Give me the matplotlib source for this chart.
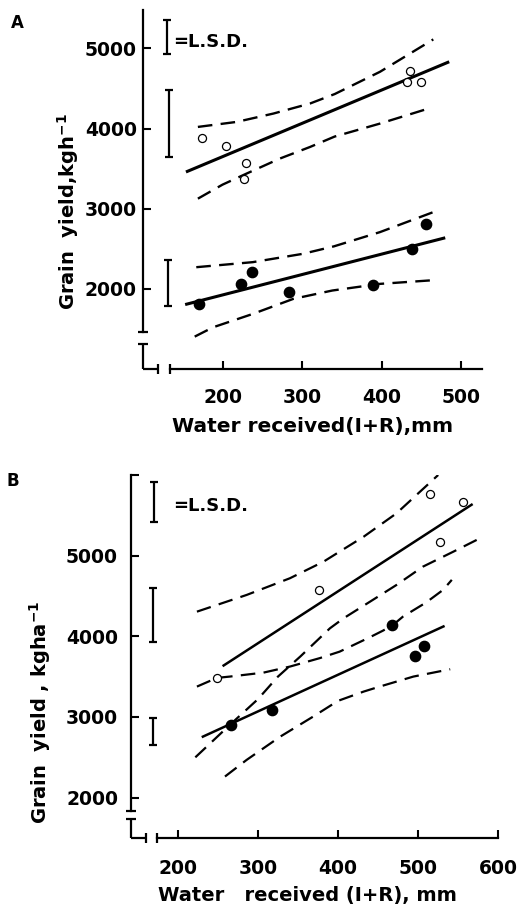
import matplotlib
matplotlib.use('Agg')
import matplotlib.pyplot as plt

plt.rcParams['font.family'] = ['DejaVu Sans']
plt.rcParams['font.weight'] = 'bold'
plt.rcParams['mathtext.default'] = 'bf'
plt.rcParams['lines.scale_dashes'] = False

# ---------------- Panel A data ----------------
a_open_x = [174, 204, 230, 227, 436, 432, 449]
a_open_y = [3883, 3783, 3570, 3375, 4716, 4575, 4575]
a_fill_x = [171, 223, 237, 284, 389, 438, 456]
a_fill_y = [1817, 2063, 2213, 1959, 2046, 2492, 2813]
a_open_fit_x = [154, 485]
a_open_fit_y = [3458, 4833]
a_fill_fit_x = [153, 480]
a_fill_fit_y = [1804, 2637]
a_open_up_x = [169, 218, 264, 310, 341, 398, 465]
a_open_up_y = [4020, 4083, 4187, 4312, 4430, 4708, 5112]
a_open_lo_x = [169, 200, 230, 272, 310, 341, 398, 463]
a_open_lo_y = [3125, 3300, 3437, 3625, 3770, 3900, 4062, 4262]
a_fill_up_x = [167, 238, 301, 340, 398, 473]
a_fill_up_y = [2270, 2333, 2437, 2530, 2708, 2987]
a_fill_lo_x = [165, 188, 238, 289, 338, 398, 471]
a_fill_lo_y = [1404, 1520, 1687, 1875, 1979, 2062, 2112]
a_lsd_x = [130, 133, 131]
a_lsd_lo = [4925, 3645, 1791]
a_lsd_hi = [5354, 4479, 2366]
a_xticks = [200, 300, 400, 500]
a_yticks = [2000, 3000, 4000, 5000]

# ---------------- Panel B data ----------------
b_open_x = [515, 556, 527, 376, 249]
b_open_y = [5761, 5662, 5173, 4571, 3485]
b_fill_x = [266, 318, 468, 496, 507]
b_fill_y = [2896, 3090, 4136, 3758, 3881]
b_open_fit_x = [256, 568]
b_open_fit_y = [3630, 5640]
b_fill_fit_x = [230, 533]
b_fill_fit_y = [2750, 4129]
b_open_up_x = [224, 286, 340, 382, 402, 432, 473, 525]
b_open_up_y = [4306, 4513, 4720, 4926, 5050, 5235, 5525, 6000]
b_open_lo_x = [222, 267, 300, 325, 353, 390, 407, 440, 473, 506, 544, 573]
b_open_lo_y = [2500, 2920, 3220, 3500, 3750, 4100, 4224, 4430, 4637, 4864, 5050, 5195]
b_fill_up_x = [224, 249, 265, 307, 340, 377, 402, 440, 456, 468, 481, 510, 531, 542]
b_fill_up_y = [3377, 3485, 3501, 3550, 3625, 3729, 3810, 3990, 4070, 4136, 4244, 4420, 4575, 4700]
b_fill_lo_x = [259, 286, 328, 369, 400, 432, 452, 494, 540]
b_fill_lo_y = [2262, 2468, 2757, 3005, 3200, 3315, 3377, 3501, 3592]
b_lsd_x = [170, 169, 169]
b_lsd_lo = [5414, 3934, 2648]
b_lsd_hi = [5917, 4603, 2988]
b_xticks = [200, 300, 400, 500, 600]
b_yticks = [2000, 3000, 4000, 5000, 6000]
b_yticklabels = ['2000', '3000', '4000', '5000', '']

W, H = 525, 906
fig = plt.figure(figsize=(W / 100, H / 100), dpi=100)

DASH = (0, (10.5, 6.0))
LW_AX = 1.6


def panel(ax, xlim, ylim, open_x, open_y, fill_x, fill_y, ofx, ofy, ffx, ffy,
          curves, lsd_x, lsd_lo, lsd_hi, xticks, yticks, yticklabels,
          left_bounds, bottom_bounds, stub_top, stub_right, lw_fit, lw_dash,
          ypad, xpad):
    ax.set_xlim(*xlim)
    ax.set_ylim(*ylim)
    for s in ('top', 'right'):
        ax.spines[s].set_visible(False)
    ax.spines['left'].set_bounds(*left_bounds)
    ax.spines['bottom'].set_bounds(*bottom_bounds)
    ax.spines['left'].set_linewidth(LW_AX)
    ax.spines['bottom'].set_linewidth(LW_AX)
    x0, y0 = xlim[0], ylim[0]
    # broken-axis stubs
    ax.plot([x0, x0], [y0, stub_top], color='black', lw=LW_AX, clip_on=False,
            solid_capstyle='butt')
    ax.plot([x0, stub_right], [y0, y0], color='black', lw=LW_AX, clip_on=False,
            solid_capstyle='butt')
    ax.plot([x0, x0], [left_bounds[0], stub_top], ls='none', marker='_',
            ms=7, mew=1.6, color='black', clip_on=False)
    ax.plot([stub_right, bottom_bounds[0]], [y0, y0], ls='none', marker='|',
            ms=7, mew=1.6, color='black', clip_on=False)

    ax.set_xticks(xticks)
    ax.set_yticks(yticks)
    ax.set_yticklabels(yticklabels)
    ax.tick_params(axis='both', direction='in', length=6, width=1.5,
                   labelsize=13.5)
    ax.tick_params(axis='y', pad=ypad)
    ax.tick_params(axis='x', pad=xpad)
    for lab in ax.get_xticklabels() + ax.get_yticklabels():
        lab.set_fontweight('bold')

    for cx, cy in curves:
        ax.plot(cx, cy, color='black', lw=lw_dash, linestyle=DASH, zorder=2)
    ax.plot(ofx, ofy, color='black', lw=lw_fit, zorder=3, solid_capstyle='butt')
    ax.plot(ffx, ffy, color='black', lw=lw_fit, zorder=3, solid_capstyle='butt')
    ax.plot(open_x, open_y, 'o', ms=5.8, mfc='white', mec='black', mew=0.9,
            zorder=5, clip_on=False)
    ax.plot(fill_x, fill_y, 'o', ms=7.4, mfc='black', mec='black', zorder=5,
            clip_on=False)

    mids = [(lo + hi) / 2 for lo, hi in zip(lsd_lo, lsd_hi)]
    halfs = [(hi - lo) / 2 for lo, hi in zip(lsd_lo, lsd_hi)]
    eb = ax.errorbar(lsd_x, mids, yerr=halfs, fmt='none', ecolor='black',
                     elinewidth=1.6, capsize=2.6, capthick=1.6)
    for art in eb.lines[1] + eb.lines[2]:
        art.set_clip_on(False)


# Panel A axes (pixel geometry of reference)
axA = fig.add_axes([143 / W, 1 - 369 / H, (485 - 143) / W, (369 - 9.9) / H])
panel(axA, (100, 530), (1000, 5480), a_open_x, a_open_y, a_fill_x, a_fill_y,
      a_open_fit_x, a_open_fit_y, a_fill_fit_x, a_fill_fit_y,
      [(a_open_up_x, a_open_up_y), (a_open_lo_x, a_open_lo_y),
       (a_fill_up_x, a_fill_up_y), (a_fill_lo_x, a_fill_lo_y)],
      a_lsd_x, a_lsd_lo, a_lsd_hi, a_xticks, a_yticks,
      [str(v) for v in a_yticks], (1460, 5480), (134, 526), 1317, 119,
      2.2, 1.7, 4.5, 14)
axA.text(137.5, 5082, '=L.S.D.', ha='left', va='center', fontsize=13,
         fontweight='bold')

# Panel B axes
axB = fig.add_axes([131.2 / W, 1 - 838 / H, (499.1 - 131.2) / W, (838 - 475) / H])
panel(axB, (142, 601), (1500, 6000), b_open_x, b_open_y, b_fill_x, b_fill_y,
      b_open_fit_x, b_open_fit_y, b_fill_fit_x, b_fill_fit_y,
      [(b_open_up_x, b_open_up_y), (b_open_lo_x, b_open_lo_y),
       (b_fill_up_x, b_fill_up_y), (b_fill_lo_x, b_fill_lo_y)],
      b_lsd_x, b_lsd_lo, b_lsd_hi, b_xticks, b_yticks, b_yticklabels,
      (1839, 6000), (174, 600), 1732, 160,
      1.8, 1.6, 9.5, 15)
axB.text(194, 5616, '=L.S.D.', ha='left', va='center', fontsize=13,
         fontweight='bold')

# Panel letters and axis titles
fig.text(17 / W, 1 - 22.7 / H, 'A', ha='center', va='center', fontsize=12,
         fontweight='bold')
fig.text(13.3 / W, 1 - 480.7 / H, 'B', ha='center', va='center', fontsize=12,
         fontweight='bold')
fig.text(68 / W, 1 - 212 / H, 'Grain  yield,kgh$^{-1}$', rotation=90,
         ha='center', va='center', fontsize=14, fontweight='bold')
fig.text(40 / W, 1 - 712 / H, 'Grain  yield , kgha$^{-1}$', rotation=90,
         ha='center', va='center', fontsize=14, fontweight='bold')
fig.text(313 / W, 1 - 426.7 / H, 'Water received(I+R),mm', ha='center',
         va='center', fontsize=14.5, fontweight='bold')
fig.text(307.5 / W, 1 - 895 / H, 'Water   received (I+R), mm', ha='center',
         va='center', fontsize=14, fontweight='bold')

fig.savefig('out.png', dpi=100, facecolor='white')
